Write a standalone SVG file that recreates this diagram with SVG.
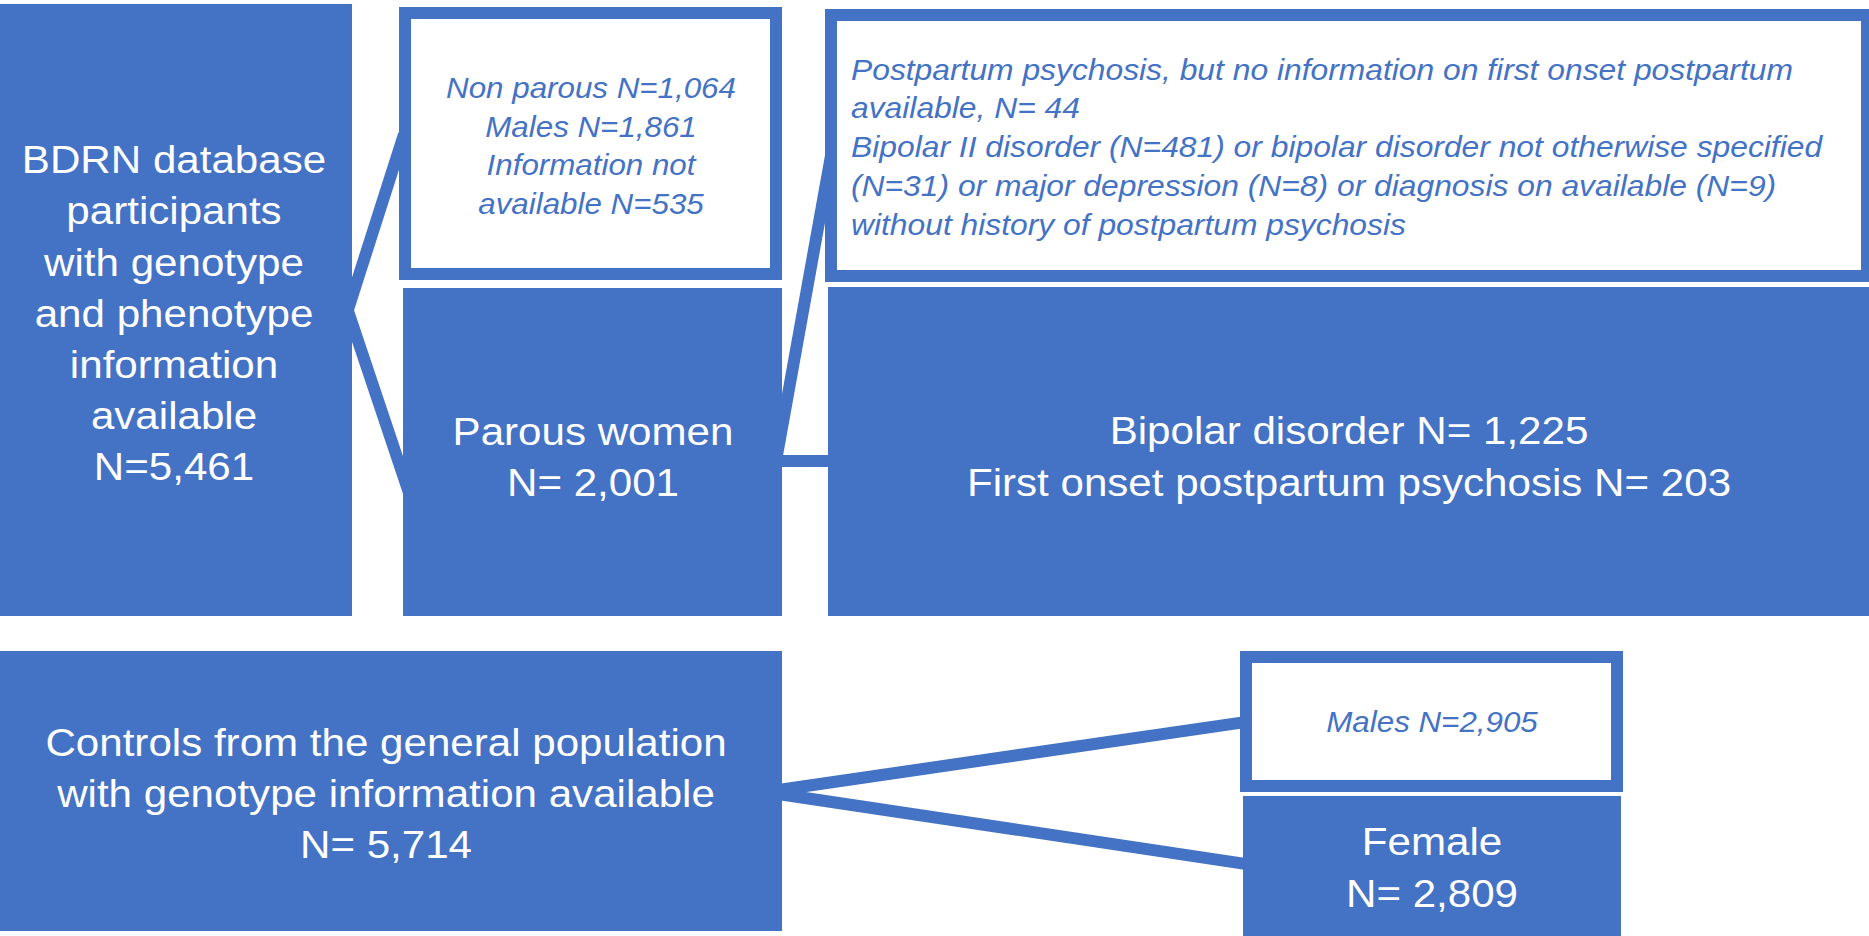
<svg xmlns="http://www.w3.org/2000/svg" width="1869" height="936" viewBox="0 0 1869 936">
<style>
.fill{fill:#4472C4;}
.outl{fill:#FFFFFF;stroke:#4472C4;stroke-width:12;}
.con{stroke:#4472C4;stroke-width:12;fill:none;}
.big{font-family:"Liberation Sans",Arial,sans-serif;font-size:39px;fill:#FFFFFF;text-anchor:middle;}
.sm{font-family:"Liberation Sans",Arial,sans-serif;font-size:29px;font-style:italic;fill:#4472C4;}
.mid{text-anchor:middle;}
</style>
<rect width="1869" height="936" fill="#FFFFFF"/>
<g id="connectors">
  <line class="con" x1="345" y1="318.9" x2="404" y2="134.4"/>
  <line class="con" x1="345" y1="302.1" x2="410" y2="495.9"/>
  <line class="con" x1="836" y1="128" x2="776" y2="461"/>
  <line class="con" x1="776" y1="461" x2="834" y2="461"/>
  <line class="con" x1="770" y1="791.2" x2="1250" y2="721.4"/>
  <line class="con" x1="770" y1="792.7" x2="1250" y2="864.6"/>
</g>
<g id="bdrn">
  <rect class="fill" x="0" y="4" width="352" height="612"/>
  <g transform="translate(174 0) scale(1.08 1)">
    <text class="big" x="0" y="173">BDRN database</text>
    <text class="big" x="0" y="224">participants</text>
    <text class="big" x="0" y="276">with genotype</text>
    <text class="big" x="0" y="327">and phenotype</text>
    <text class="big" x="0" y="378">information</text>
    <text class="big" x="0" y="429">available</text>
    <text class="big" x="0" y="480">N=5,461</text>
  </g>
</g>
<g id="nonparous">
  <rect class="outl" x="405" y="13" width="371" height="261"/>
  <g transform="translate(591 0) scale(1.08 1)">
    <text class="sm mid" x="0" y="98">Non parous N=1,064</text>
    <text class="sm mid" x="0" y="137">Males N=1,861</text>
    <text class="sm mid" x="0" y="175">Information not</text>
    <text class="sm mid" x="0" y="214">available N=535</text>
  </g>
</g>
<g id="parous">
  <rect class="fill" x="403" y="288" width="379" height="328"/>
  <g transform="translate(593 0) scale(1.08 1)">
    <text class="big" x="0" y="445">Parous women</text>
    <text class="big" x="0" y="496">N= 2,001</text>
  </g>
</g>
<g id="excluded">
  <rect class="outl" x="831" y="15" width="1036" height="261"/>
  <g transform="translate(851 0) scale(1.097 1)">
    <text class="sm" x="0" y="80">Postpartum psychosis, but no information on first onset postpartum</text>
    <text class="sm" x="0" y="118">available, N= 44</text>
    <text class="sm" x="0" y="157">Bipolar II disorder (N=481) or bipolar disorder not otherwise specified</text>
    <text class="sm" x="0" y="196">(N=31) or major depression (N=8) or diagnosis on available (N=9)</text>
    <text class="sm" x="0" y="235">without history of postpartum psychosis</text>
  </g>
</g>
<g id="bipolar">
  <rect class="fill" x="828" y="287" width="1041" height="329"/>
  <g transform="translate(1349 0) scale(1.08 1)">
    <text class="big" x="0" y="444">Bipolar disorder N= 1,225</text>
    <text class="big" x="0" y="496">First onset postpartum psychosis N= 203</text>
  </g>
</g>
<g id="controls">
  <rect class="fill" x="0" y="651" width="782" height="280"/>
  <g transform="translate(386 0) scale(1.08 1)">
    <text class="big" x="0" y="756">Controls from the general population</text>
    <text class="big" x="0" y="807">with genotype information available</text>
    <text class="big" x="0" y="858">N= 5,714</text>
  </g>
</g>
<g id="males">
  <rect class="outl" x="1246" y="657" width="371" height="129"/>
  <g transform="translate(1432 0) scale(1.08 1)">
    <text class="sm mid" x="0" y="732">Males N=2,905</text>
  </g>
</g>
<g id="female">
  <rect class="fill" x="1243" y="796" width="378" height="140"/>
  <g transform="translate(1432 0) scale(1.08 1)">
    <text class="big" x="0" y="855">Female</text>
    <text class="big" x="0" y="907">N= 2,809</text>
  </g>
</g>
</svg>
